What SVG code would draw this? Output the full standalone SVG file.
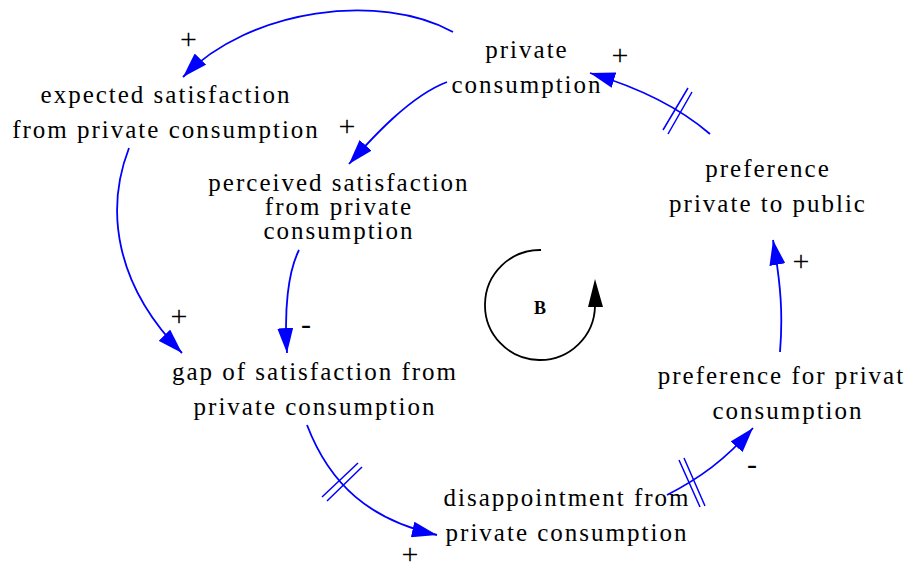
<svg xmlns="http://www.w3.org/2000/svg" width="904" height="567" viewBox="0 0 904 567">
<defs>
<style>
.n{font-family:"Liberation Serif","Times New Roman",serif;font-size:25px;letter-spacing:2px;fill:#000;text-anchor:middle}
.s{font-family:"Liberation Serif","Times New Roman",serif;font-size:30px;fill:#000;text-anchor:middle}
.c{fill:none;stroke:#0000ff;stroke-width:1.8}
.h{fill:none;stroke:#0000ff;stroke-width:1.5}
.b{font-family:"Liberation Serif","Times New Roman",serif;font-size:18px;font-weight:bold;fill:#000;text-anchor:middle}
</style>
<marker id="ah" markerUnits="userSpaceOnUse" markerWidth="25" markerHeight="16" viewBox="0 0 25 16" refX="25" refY="8" orient="auto">
<path d="M0,0 L25,8 L0,16 Z" fill="#0000ff"/>
</marker>
</defs>
<rect width="904" height="567" fill="#fff"/>
<g id="connectors">
<path class="c" d="M453,32 C380,-8 250,8 183,77" marker-end="url(#ah)"/>
<path class="c" d="M447,82 C410,96 372,138 349,164" marker-end="url(#ah)"/>
<path class="c" d="M129,148 C105,210 115,285 182,353" marker-end="url(#ah)"/>
<path class="c" d="M299,250 C288,272 284,310 287,353" marker-end="url(#ah)"/>
<path class="c" d="M307,425 C330,485 370,520 437,535" marker-end="url(#ah)"/>
<path class="c" d="M667,495 C700,478 725,460 753,428" marker-end="url(#ah)"/>
<path class="c" d="M780,352 C783,315 781,285 773,240" marker-end="url(#ah)"/>
<path class="c" d="M710,134 C680,108 640,88 590,73" marker-end="url(#ah)"/>
<path class="h" d="M322,497 L358,463 M327,501 L362,467"/>
<path class="h" d="M679,460 L700,507 M684,458 L705,506"/>
<path class="h" d="M663,130 L688,88 M668,134 L692,92"/>
<text class="s" x="188.5" y="48.6">+</text>
<text class="s" x="347" y="135.6">+</text>
<text class="s" x="179" y="325.6">+</text>
<text class="s" x="306" y="333.7">-</text>
<text class="s" x="410" y="563.6">+</text>
<text class="s" x="752" y="473.7">-</text>
<text class="s" x="801" y="270.6">+</text>
<text class="s" x="620" y="64.6">+</text>
</g>
<g id="private_consumption"><text class="n" x="527" y="58">private</text><text class="n" x="527" y="93">consumption</text></g>
<g id="expected_satisfaction"><text class="n" x="166" y="103">expected satisfaction</text><text class="n" x="166" y="138">from private consumption</text></g>
<g id="perceived_satisfaction"><text class="n" x="339" y="191">perceived satisfaction</text><text class="n" x="339" y="215">from private</text><text class="n" x="339" y="239">consumption</text></g>
<g id="gap_of_satisfaction"><text class="n" x="315" y="380">gap of satisfaction from</text><text class="n" x="315" y="415">private consumption</text></g>
<g id="disappointment"><text class="n" x="567" y="506">disappointment from</text><text class="n" x="567" y="541">private consumption</text></g>
<g id="preference_for_private"><text class="n" x="788" y="384">preference for private</text><text class="n" x="788" y="419">consumption</text></g>
<g id="preference_private_to_public"><text class="n" x="768" y="177">preference</text><text class="n" x="768" y="212">private to public</text></g>
<g id="loop_B">
<path d="M541,250 A55,55 0 1 0 595,306" fill="none" stroke="#000" stroke-width="1.8"/>
<path d="M595,279 L603,307 L588,307 Z" fill="#000"/>
<text class="b" x="540" y="314">B</text>
</g>
</svg>
